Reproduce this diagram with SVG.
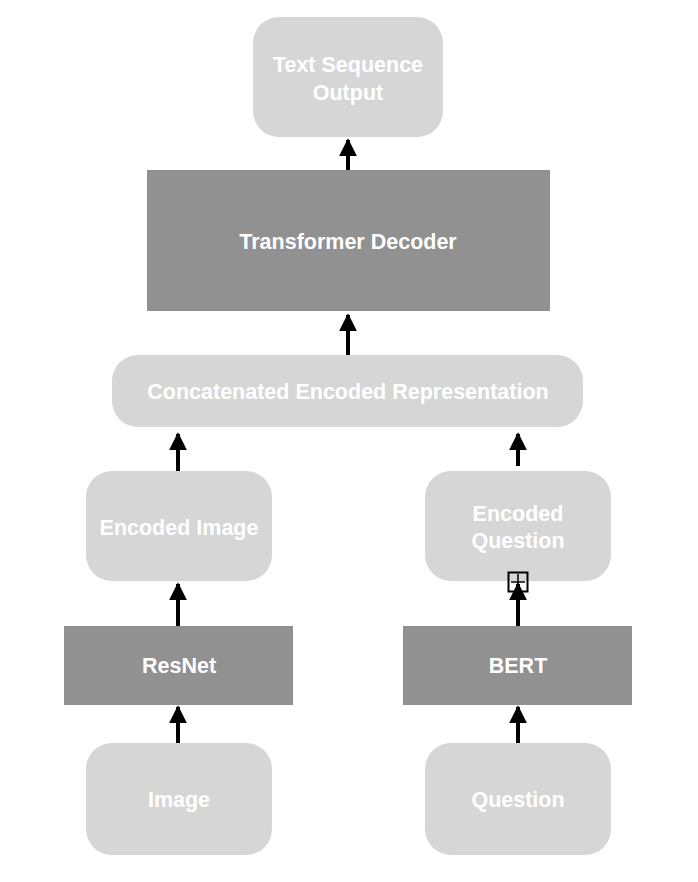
<svg xmlns="http://www.w3.org/2000/svg" width="698" height="882" viewBox="0 0 698 882">
<defs>
<style>
.soft{fill:#d6d6d6}
.dark{fill:#919191}
.t{font-family:"Liberation Sans",Arial,sans-serif;font-weight:bold;font-size:21.5px;fill:#ffffff;text-anchor:middle}
.c{stroke:#000;stroke-width:4;fill:none}
</style>
<marker id="ah" viewBox="0 0 10 10" refX="9" refY="5" markerWidth="4.5" markerHeight="4.5" markerUnits="strokeWidth" orient="auto">
<path d="M0,0 L10,5 L0,10 z" fill="#000"/>
</marker>
</defs>
<rect width="698" height="882" fill="#fff"/>
<g id="text-sequence-output">
<rect class="soft" x="253" y="17" width="190" height="120" rx="26"/>
<text class="t" x="348" y="72">Text Sequence</text>
<text class="t" x="348" y="100">Output</text>
</g>
<g id="transformer-decoder">
<rect class="dark" x="147" y="170" width="403" height="141"/>
<text class="t" x="348" y="249">Transformer Decoder</text>
</g>
<g id="concatenated">
<rect class="soft" x="112" y="355" width="471" height="72" rx="26"/>
<text class="t" x="348" y="399">Concatenated Encoded Representation</text>
</g>
<g id="encoded-image">
<rect class="soft" x="86" y="471" width="186" height="110" rx="26"/>
<text class="t" x="179" y="535">Encoded Image</text>
</g>
<g id="encoded-question">
<rect class="soft" x="425" y="471" width="186" height="110" rx="26"/>
<text class="t" x="518" y="521">Encoded</text>
<text class="t" x="518" y="548">Question</text>
</g>
<g id="resnet">
<rect class="dark" x="64" y="626" width="229" height="79"/>
<text class="t" x="179" y="673">ResNet</text>
</g>
<g id="bert">
<rect class="dark" x="403" y="626" width="229" height="79"/>
<text class="t" x="518" y="673">BERT</text>
</g>
<g id="image">
<rect class="soft" x="86" y="743" width="186" height="112" rx="26"/>
<text class="t" x="179" y="807">Image</text>
</g>
<g id="question">
<rect class="soft" x="425" y="743" width="186" height="112" rx="26"/>
<text class="t" x="518" y="807">Question</text>
</g>
<g id="connectors">
<line class="c" x1="348" y1="170" x2="348" y2="140" marker-end="url(#ah)"/>
<line class="c" x1="348" y1="355" x2="348" y2="315" marker-end="url(#ah)"/>
<line class="c" x1="178" y1="471" x2="178" y2="434" marker-end="url(#ah)"/>
<line class="c" x1="518" y1="466" x2="518" y2="434" marker-end="url(#ah)"/>
<line class="c" x1="178" y1="626" x2="178" y2="584" marker-end="url(#ah)"/>
<line class="c" x1="518" y1="626" x2="518" y2="584" marker-end="url(#ah)"/>
<line class="c" x1="178" y1="743" x2="178" y2="707" marker-end="url(#ah)"/>
<line class="c" x1="518" y1="743" x2="518" y2="707" marker-end="url(#ah)"/>
<rect x="508.5" y="572.5" width="19" height="19" fill="none" stroke="#000" stroke-width="2"/>
<line x1="511" y1="582" x2="525" y2="582" stroke="#000" stroke-width="1.5"/>
<line x1="518" y1="574" x2="518" y2="590" stroke="#000" stroke-width="1.5"/>
</g>
</svg>
